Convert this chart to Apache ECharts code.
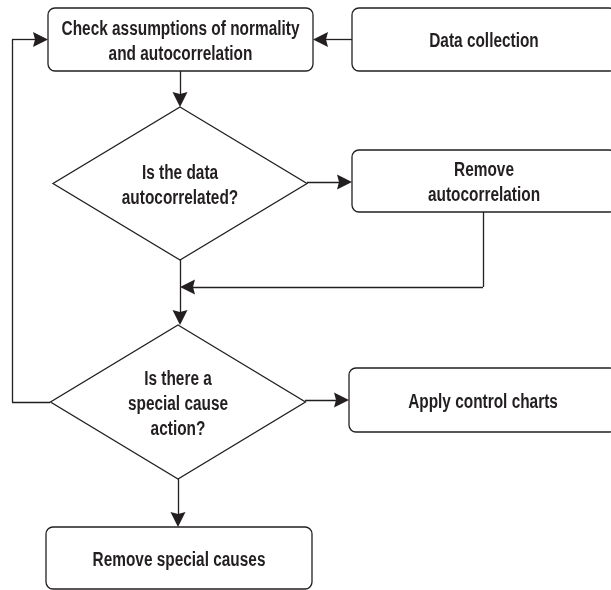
<!DOCTYPE html>
<html>
<head>
<meta charset="utf-8">
<script src="https://cdn.jsdelivr.net/npm/echarts@6/dist/echarts.min.js"></script>
<style>
html,body{margin:0;padding:0;background:#fff;}
#chart{width:611px;height:590px;}
</style>
</head>
<body>
<div id="chart"></div>
<script>
// Node labels (flowchart steps)
const nodeLabels = [
  'Check assumptions of normality\nand autocorrelation',
  'Data collection',
  'Is the data\nautocorrelated?',
  'Remove\nautocorrelation',
  'Is there a\nspecial cause\naction?',
  'Apply control charts',
  'Remove special causes'
];
const nodeKinds = ['box', 'box', 'diamond', 'box', 'diamond', 'box', 'box'];

// Layout (pixel-space data coordinates on hidden axes)
const nodeLayout = [
  { x: 180.5, y: 39.5, w: 265, h: 63 },
  { x: 484, y: 39.5, w: 264, h: 63 },
  { x: 180, y: 183.5, w: 254, h: 153 },
  { x: 484, y: 181, w: 264, h: 62 },
  { x: 178, y: 402, w: 255, h: 154 },
  { x: 483, y: 400, w: 268, h: 64 },
  { x: 179, y: 558, w: 266, h: 62 }
];

// Connector paths (last segment carries the arrow)
const edgePaths = [
  [[352, 39.5], [313, 39.5]],
  [[180, 71], [180, 107]],
  [[307, 182], [352, 182]],
  [[483, 212], [483, 287], [180, 287]],
  [[180, 260], [180, 325]],
  [[305, 400], [349, 400]],
  [[178, 479], [178, 527]],
  [[50, 402], [12, 402], [12, 39.5], [48, 39.5]]
];

const INK = '#231f20';
const ARROW_W = 11, ARROW_L = 15;
const plainSegs = [];
const arrowSegs = [];
edgePaths.forEach(p => {
  for (let k = 0; k < p.length - 1; k++) {
    const a = p[k], b = p[k + 1];
    if (k === p.length - 2) {
      // arrow symbol is centred on the segment end: pull the end back by half its length
      const dx = b[0] - a[0], dy = b[1] - a[1];
      const len = Math.sqrt(dx * dx + dy * dy);
      const e = [b[0] - dx / len * ARROW_L / 2, b[1] - dy / len * ARROW_L / 2];
      arrowSegs.push({ coords: [a, e] });
    } else {
      plainSegs.push({ coords: [a, b] });
    }
  }
});

const chart = echarts.init(document.getElementById('chart'), null, { renderer: 'canvas' });

chart.setOption({
  backgroundColor: '#ffffff',
  animation: false,
  grid: { left: 0, right: 0, top: 0, bottom: 0 },
  xAxis: { type: 'value', min: 0, max: 611, show: false },
  yAxis: { type: 'value', min: 0, max: 590, inverse: true, show: false },
  series: [
    {
      type: 'lines',
      coordinateSystem: 'cartesian2d',
      symbol: ['none', 'none'],
      z: 3,
      lineStyle: { color: INK, width: 1.3, opacity: 1 },
      data: plainSegs
    },
    {
      type: 'lines',
      coordinateSystem: 'cartesian2d',
      symbol: ['none', 'path://M5.5,0 L11,15 L5.5,13 L0,15 Z'],
      symbolSize: [ARROW_W, ARROW_L],
      z: 3,
      lineStyle: { color: INK, width: 1.3, opacity: 1 },
      data: arrowSegs
    },
    {
      type: 'custom',
      coordinateSystem: 'cartesian2d',
      z: 2,
      clip: false,
      data: nodeLabels.map((l, i) => [nodeLayout[i].x, nodeLayout[i].y]),
      renderItem: function (params, api) {
        const i = params.dataIndex;
        const n = nodeLayout[i];
        const c = api.coord([api.value(0), api.value(1)]);
        const s = api.size([n.w, n.h]);
        let shapeEl;
        if (nodeKinds[i] === 'diamond') {
          shapeEl = {
            type: 'polygon',
            shape: { points: [[c[0], c[1] - s[1] / 2], [c[0] + s[0] / 2, c[1]], [c[0], c[1] + s[1] / 2], [c[0] - s[0] / 2, c[1]]] },
            style: { fill: '#ffffff', stroke: INK, lineWidth: 1.3 }
          };
        } else {
          shapeEl = {
            type: 'rect',
            shape: { x: c[0] - s[0] / 2, y: c[1] - s[1] / 2, width: s[0], height: s[1], r: 7 },
            style: { fill: '#ffffff', stroke: INK, lineWidth: 1.3 }
          };
        }
        return {
          type: 'group',
          children: [
            shapeEl,
            {
              type: 'text',
              x: c[0], y: c[1] + 2,
              scaleX: 0.77,
              style: {
                text: nodeLabels[i],
                align: 'center',
                verticalAlign: 'middle',
                fontFamily: '"Liberation Sans", Arial, sans-serif',
                fontWeight: 'bold',
                fontSize: 20,
                lineHeight: 25,
                fill: INK
              }
            }
          ]
        };
      }
    }
  ]
});
</script>
</body>
</html>
